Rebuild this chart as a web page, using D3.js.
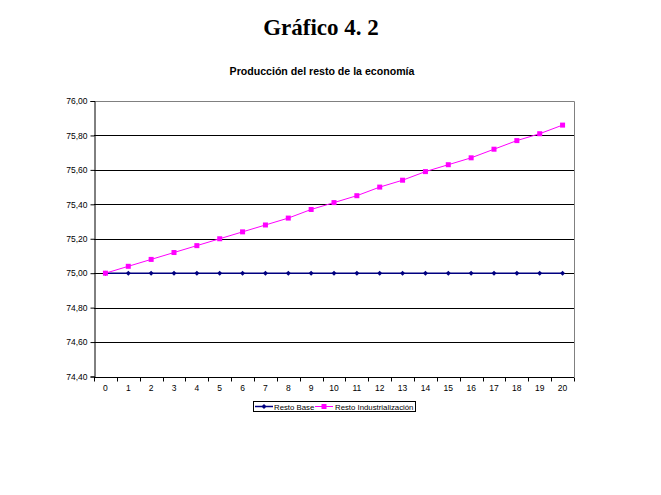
<!DOCTYPE html>
<html>
<head>
<meta charset="utf-8">
<script src="https://cdn.jsdelivr.net/npm/d3@7"></script>
<style>
  html, body { margin: 0; padding: 0; background: #fff; }
  svg { display: block; }
</style>
</head>
<body>
<svg id="chart" width="661" height="495"></svg>
<script>
const categories = ["0","1","2","3","4","5","6","7","8","9","10","11","12","13","14","15","16","17","18","19","20"];
const restoBase = [75.00,75.00,75.00,75.00,75.00,75.00,75.00,75.00,75.00,75.00,75.00,75.00,75.00,75.00,75.00,75.00,75.00,75.00,75.00,75.00,75.00];
const restoIndustrializacion = [75.00,75.04,75.08,75.12,75.16,75.20,75.24,75.28,75.32,75.37,75.41,75.45,75.50,75.54,75.59,75.63,75.67,75.72,75.77,75.81,75.86];
const yTicks = [74.4,74.6,74.8,75.0,75.2,75.4,75.6,75.8,76.0];
const seriesNames = ["Resto Base","Resto Industrialización"];

(function () {
const svg = d3.select("#chart");
const pLeft = 94, pRight = 574, pTop = 101, pBottom = 376.5;

const x = d3.scaleBand().domain(categories).range([pLeft, pRight]).paddingInner(0).paddingOuter(0);
const y = d3.scaleLinear().domain([74.4, 76.0]).range([pBottom, pTop]);
const fmt = v => d3.format(".2f")(v).replace(".", ",");

// Title
svg.append("text").attr("x", 321).attr("y", 35).attr("text-anchor", "middle")
  .attr("font-family", "Liberation Serif, Times New Roman, serif").attr("font-weight", "bold")
  .attr("font-size", 23).text("Gráfico 4. 2");
svg.append("text").attr("x", 322).attr("y", 75).attr("text-anchor", "middle")
  .attr("font-family", "Liberation Sans, Arial, sans-serif").attr("font-weight", "bold")
  .attr("font-size", 10.6).text("Producción del resto de la economía");

// Gridlines
svg.append("g").selectAll("line").data(yTicks.slice(0, -1)).join("line")
  .attr("x1", pLeft).attr("x2", pRight)
  .attr("y1", d => Math.round(y(d)) + 0.5).attr("y2", d => Math.round(y(d)) + 0.5)
  .attr("stroke", "#000").attr("stroke-width", 1);

// Plot border top/right (gray)
svg.append("path")
  .attr("d", `M${pLeft},${Math.round(pTop)+0.5}H${pRight+0.5}V${Math.round(pBottom)}`)
  .attr("fill", "none").attr("stroke", "#808080").attr("stroke-width", 1);

// Y axis
const yAxis = d3.axisLeft(y).tickValues(yTicks).tickFormat(fmt).tickSize(4).tickPadding(3);
const gy = svg.append("g").attr("transform", `translate(${pLeft + 0.5},0)`).call(yAxis);
gy.select(".domain").attr("stroke", "#000");
gy.selectAll(".tick line").attr("stroke", "#000");
gy.selectAll("text").attr("font-family", "Liberation Sans, Arial, sans-serif").attr("font-size", 8.5).attr("fill", "#000");

// X axis: ticks at category boundaries
const gx = svg.append("g").attr("transform", `translate(0,${Math.round(pBottom) + 0.5})`);
gx.append("line").attr("x1", pLeft).attr("x2", pRight).attr("stroke", "#000");
const bounds = categories.map(c => x(c)).concat([pRight]);
gx.selectAll("line.tk").data(bounds).join("line").attr("class", "tk")
  .attr("x1", d => Math.round(d) + 0.5).attr("x2", d => Math.round(d) + 0.5)
  .attr("y1", 0).attr("y2", 4).attr("stroke", "#000");
gx.selectAll("text").data(categories).join("text")
  .attr("x", d => x(d) + x.bandwidth() / 2).attr("y", 13.5)
  .attr("text-anchor", "middle")
  .attr("font-family", "Liberation Sans, Arial, sans-serif").attr("font-size", 8.5)
  .text(d => d);

const cx = i => x(categories[i]) + x.bandwidth() / 2;
const line = d3.line().x((d, i) => cx(i)).y(d => y(d));

svg.append("path").datum(restoBase).attr("d", line)
  .attr("fill", "none").attr("stroke", "#000080").attr("stroke-width", 1.5);
svg.append("path").datum(restoIndustrializacion).attr("d", line)
  .attr("fill", "none").attr("stroke", "#FF00FF").attr("stroke-width", 1);

const diamondPath = "M0,-2.5L2.5,0L0,2.5L-2.5,0Z";
svg.append("g").selectAll("path").data(restoBase).join("path")
  .attr("d", diamondPath).attr("transform", (d, i) => `translate(${cx(i)},${y(d)})`)
  .attr("fill", "#000080");
svg.append("g").selectAll("rect").data(restoIndustrializacion).join("rect")
  .attr("x", (d, i) => cx(i) - 2.5).attr("y", d => y(d) - 2.5)
  .attr("width", 5).attr("height", 5).attr("fill", "#FF00FF");

// Legend
const lg = svg.append("g");
lg.append("rect").attr("x", 253.5).attr("y", 401.5).attr("width", 162).attr("height", 10)
  .attr("fill", "#fff").attr("stroke", "#000").attr("stroke-width", 1);
lg.append("line").attr("x1", 255).attr("x2", 273).attr("y1", 406.5).attr("y2", 406.5)
  .attr("stroke", "#000080").attr("stroke-width", 1.5);
lg.append("path").attr("d", diamondPath).attr("transform", "translate(264,406.5)").attr("fill", "#000080");
lg.append("text").attr("x", 274).attr("y", 409.5)
  .attr("font-family", "Liberation Sans, Arial, sans-serif").attr("font-size", 7.8).text(seriesNames[0]);
lg.append("line").attr("x1", 315).attr("x2", 333).attr("y1", 406.5).attr("y2", 406.5)
  .attr("stroke", "#FF00FF").attr("stroke-width", 1);
lg.append("rect").attr("x", 321.5).attr("y", 404).attr("width", 5).attr("height", 5).attr("fill", "#FF00FF");
lg.append("text").attr("x", 335).attr("y", 409.5)
  .attr("font-family", "Liberation Sans, Arial, sans-serif").attr("font-size", 7.8).text(seriesNames[1]);
})();
</script>
</body>
</html>
